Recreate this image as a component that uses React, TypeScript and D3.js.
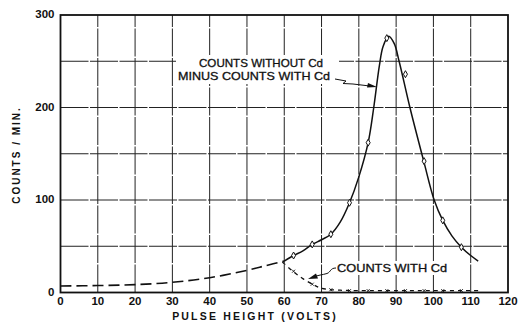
import * as d3 from "d3";

// long-dash lead-in of the main curve (0 - 60 V)
const leadX = [0, 10, 20, 30, 40, 50, 55, 60];
const leadY = [7, 7.5, 8.5, 11, 16, 24, 29, 34];

// counts without Cd minus counts with Cd (solid)
const mainX = [60, 62.5, 65, 67.5, 70, 72.5, 75, 77.5, 80, 82.5, 84, 85.5, 86.5, 88, 89.5, 90.8, 93.7, 97.4, 100.2, 102.5, 105, 107.5, 110, 112];
const mainY = [34, 40, 45, 52, 57, 63, 76, 97, 125, 162, 200, 245, 266, 277, 269, 250, 200, 142, 100, 78, 61, 49, 40, 34];

// measured points (diamonds)
const pointX = [62.5, 67.5, 72.5, 77.5, 82.5, 87.5, 92.5, 97.5, 102.5, 107.5];
const pointY = [40, 52, 63, 97, 162, 275, 236, 142, 78, 49];

// counts with Cd (short dashes)
const cdX = [59.5, 62, 65, 68, 70, 75, 80, 90, 100, 112];
const cdY = [33, 24, 15, 8, 4.5, 2.5, 2, 2, 2, 2];
const cdPointX = [62.5, 67.5, 72.5, 77.5, 82.5, 87.5, 92.5, 97.5, 102.5, 107.5];
const cdPointY = [23, 9, 3, 2, 2, 2, 2, 2, 2, 2];

const xTicks = [0, 10, 20, 30, 40, 50, 60, 70, 80, 90, 100, 110, 120];
const yTicks = [0, 100, 200, 300];
const xGrid = [10, 20, 30, 40, 50, 60, 70, 80, 90, 100, 110];
const yGrid = [50, 100, 150, 200, 250];

const W = 519;
const H = 324;
const font = "'Liberation Sans', Arial, sans-serif";

const App = () => {
  const x = d3.scaleLinear().domain([0, 120]).range([60.5, 508]);
  const y = d3.scaleLinear().domain([0, 300]).range([292.5, 15]);

  const line = d3
    .line<[number, number]>()
    .x((d) => x(d[0]))
    .y((d) => y(d[1]))
    .curve(d3.curveCatmullRom.alpha(0.5));

  const lead = line(leadX.map((v, i) => [v, leadY[i]]));
  const main = line(mainX.map((v, i) => [v, mainY[i]]));
  const cd = line(cdX.map((v, i) => [v, cdY[i]]));

  return (
    <svg
      width={W}
      height={H}
      style={{ position: "absolute", left: 0, top: 0, background: "#fff" }}
    >
      {/* grid */}
      <g stroke="#222" strokeWidth={1} strokeDasharray="28,1.5">
        {xGrid.map((v) => (
          <line key={"gx" + v} x1={x(v)} x2={x(v)} y1={y(0)} y2={y(300)} />
        ))}
        {yGrid.map((v) => (
          <line key={"gy" + v} x1={x(0)} x2={x(120)} y1={y(v)} y2={y(v)} />
        ))}
      </g>

      {/* drafting gaps behind the labels */}
      <rect x={176} y={55} width={163} height={29} fill="#fff" />
      <rect x={334} y={261} width={116} height={14} fill="#fff" />

      {/* frame */}
      <rect
        x={x(0)}
        y={y(300)}
        width={x(120) - x(0)}
        height={y(0) - y(300)}
        fill="none"
        stroke="#111"
        strokeWidth={1.8}
      />

      {/* curves */}
      <path d={lead ?? ""} fill="none" stroke="#111" strokeWidth={1.6} strokeDasharray="11,5" />
      <path d={main ?? ""} fill="none" stroke="#111" strokeWidth={1.5} />
      <path d={cd ?? ""} fill="none" stroke="#111" strokeWidth={1.3} strokeDasharray="4,4" />

      {pointX.map((v, i) => (
        <path
          key={"p" + i}
          d={`M${x(v)},${y(pointY[i]) - 3.5}L${x(v) + 2},${y(pointY[i])}L${x(v)},${y(pointY[i]) + 3.5}L${x(v) - 2},${y(pointY[i])}Z`}
          fill="#fff"
          stroke="#111"
          strokeWidth={1}
        />
      ))}
      {cdPointX.map((v, i) => (
        <path
          key={"c" + i}
          d={`M${x(v) - 1.5},${y(cdPointY[i]) - 1.5}L${x(v) + 1.5},${y(cdPointY[i]) + 1.5}M${x(v) + 1.5},${y(cdPointY[i]) - 1.5}L${x(v) - 1.5},${y(cdPointY[i]) + 1.5}`}
          stroke="#111"
          strokeWidth={0.9}
        />
      ))}

      {/* tick labels */}
      <g fontFamily={font} fontSize={11.5} fontWeight="bold" fill="#111">
        {xTicks.map((v) => (
          <text key={"xt" + v} x={x(v)} y={y(0) + 12} textAnchor="middle">
            {v}
          </text>
        ))}
        {yTicks.map((v) => (
          <text key={"yt" + v} x={x(0) - 6} y={y(v)} textAnchor="end" dominantBaseline="middle">
            {v}
          </text>
        ))}
      </g>

      {/* axis titles */}
      <text
        x={255}
        y={320}
        textAnchor="middle"
        fontFamily={font}
        fontSize={10.5}
        fontWeight="bold"
        letterSpacing={2.2}
        fill="#111"
      >
        PULSE  HEIGHT  (VOLTS)
      </text>
      <text
        transform={`translate(20, ${155}) rotate(-90)`}
        textAnchor="middle"
        fontFamily={font}
        fontSize={10}
        fontWeight="bold"
        letterSpacing={2}
        fill="#111"
      >
        COUNTS / MIN.
      </text>

      {/* annotations */}
      <g fontFamily={font} fontSize={11} fill="#111" stroke="#111" strokeWidth={0.3}>
        <text x={199} y={67} textLength={124} lengthAdjust="spacingAndGlyphs">
          COUNTS WITHOUT  Cd
        </text>
        <text x={178} y={80} textLength={152} lengthAdjust="spacingAndGlyphs">
          MINUS COUNTS WITH  Cd
        </text>
        <text x={337} y={272} textLength={110} lengthAdjust="spacingAndGlyphs">
          COUNTS  WITH  Cd
        </text>
      </g>
      <path
        d="M335,79 L346,81 L343,83.5 L353,84 L374,86.5"
        fill="none"
        stroke="#111"
        strokeWidth={1}
      />
      <path d="M377,87 L368,83 L367,87.5 Z" fill="#111" />
      <path
        d="M336,268 C330,268 331,272 327,273.5 C322,275 318,275 314,277"
        fill="none"
        stroke="#111"
        strokeWidth={1}
      />
      <path d="M308,279 L316,273.5 L318,278.5 Z" fill="#111" />
    </svg>
  );
};

export default App;
